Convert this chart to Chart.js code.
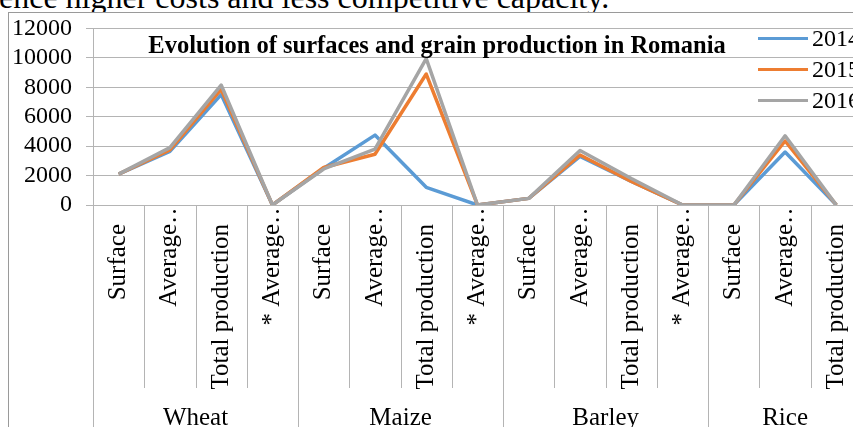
<!DOCTYPE html>
<html lang="en">
<head>
    <meta charset="UTF-8">
    <title>Evolution of surfaces and grain production in Romania</title>
    <script src="https://cdn.jsdelivr.net/npm/chart.js@4.4.1/dist/chart.umd.min.js"></script>
    <style>
        html, body {
            margin: 0;
            padding: 0;
            width: 853px;
            height: 427px;
            overflow: hidden;
            background: #fff;
        }
        #doc {
            position: absolute;
            left: -1px;
            top: -21px;
            font-family: 'Liberation Serif', 'Times New Roman', serif;
            font-size: 32px;
            white-space: nowrap;
            color: #000;
        }
        #frame {
            position: absolute;
            left: 8px;
            top: 12px;
            width: 1200px;
            height: 1200px;
            border: 1px solid #9a9a9a;
            background: #fff;
        }
        #chart {
            position: absolute;
            left: 0;
            top: 0;
        }
    </style>
</head>
<body>
    <div id="doc">ence higher costs and less competitive capacity.</div>
    <div id="frame"></div>
    <canvas id="chart" width="900" height="440"></canvas>

    <script>
        const categories = [
            'Surface', 'Average…', 'Total production', '* Average…',
            'Surface', 'Average…', 'Total production', '* Average…',
            'Surface', 'Average…', 'Total production', '* Average…',
            'Surface', 'Average…', 'Total production'
        ];
        const groupNames = ['Wheat', 'Maize', 'Barley', 'Rice'];
        const groupSizes = [4, 4, 4, 3];

        const seriesNames = ['2014', '2015', '2016'];
        const values2014 = [2100, 3650, 7500, 0, 2500, 4750, 1200, 0, 450, 3300, 1600, 0, 0, 3600, 0];
        const values2015 = [2100, 3750, 7850, 0, 2550, 3450, 8900, 0, 450, 3400, 1600, 0, 0, 4350, 0];
        const values2016 = [2100, 3900, 8150, 0, 2450, 3800, 9950, 0, 450, 3700, 1800, 0, 0, 4700, 0];
        const yTicks = [0, 2000, 4000, 6000, 8000, 10000, 12000];

        const chartTitle = 'Evolution of surfaces and grain production in Romania';
        const colors = ['#5B9BD5', '#ED7D31', '#A5A5A5'];
        const gridColor = '#b4b4b4';
        const serif = "'Liberation Serif', 'Times New Roman', serif";

        Chart.defaults.font.family = serif;
        Chart.defaults.color = '#000';

        // title, legend, category separators and group labels
        const decor = {
            id: 'decor',
            afterDraw(chart) {
                const { ctx, chartArea } = chart;
                const x = chart.scales.x;
                const step = x.getPixelForValue(1) - x.getPixelForValue(0);
                ctx.save();

                // separators below the axis
                const groupEdges = [0];
                groupSizes.forEach(n => groupEdges.push(groupEdges[groupEdges.length - 1] + n));
                ctx.strokeStyle = gridColor;
                ctx.lineWidth = 1;
                for (let i = 0; i <= categories.length; i++) {
                    const px = Math.round(x.getPixelForValue(i) - step / 2) + 0.5;
                    const bottom = groupEdges.includes(i) ? chart.height : chartArea.bottom + 183;
                    ctx.beginPath();
                    ctx.moveTo(px, chartArea.bottom);
                    ctx.lineTo(px, bottom);
                    ctx.stroke();
                }

                // group labels
                ctx.fillStyle = '#000';
                ctx.font = '25px ' + serif;
                ctx.textAlign = 'center';
                ctx.textBaseline = 'middle';
                groupNames.forEach((name, g) => {
                    const a = groupEdges[g], b = groupEdges[g + 1] - 1;
                    const cx = (x.getPixelForValue(a) + x.getPixelForValue(b)) / 2;
                    ctx.fillText(name, cx, chartArea.bottom + 213);
                });

                // title
                ctx.font = 'bold 24.5px ' + serif;
                ctx.textBaseline = 'alphabetic';
                ctx.fillText(chartTitle, chartArea.left + 344, chartArea.top + 25);

                // legend
                ctx.font = '24px ' + serif;
                ctx.textAlign = 'left';
                ctx.textBaseline = 'middle';
                ctx.lineWidth = 3;
                seriesNames.forEach((name, i) => {
                    const ly = chartArea.top + 10 + i * 31;
                    ctx.strokeStyle = colors[i];
                    ctx.beginPath();
                    ctx.moveTo(chartArea.right - 104, ly);
                    ctx.lineTo(chartArea.right - 54, ly);
                    ctx.stroke();
                    ctx.fillText(name, chartArea.right - 50, ly + 1);
                });

                ctx.restore();
            }
        };

        const seriesValues = [values2014, values2015, values2016];

        new Chart(document.getElementById('chart'), {
            type: 'line',
            data: {
                labels: categories,
                datasets: seriesNames.map((name, i) => ({
                    label: name,
                    data: seriesValues[i],
                    borderColor: colors[i],
                    backgroundColor: colors[i],
                    borderWidth: 3.5,
                    pointRadius: 0,
                    tension: 0,
                    borderJoinStyle: 'round',
                    order: seriesNames.length - i
                }))
            },
            options: {
                responsive: false,
                animation: false,
                layout: { padding: { top: 25, right: 38, left: 0, bottom: 0 } },
                plugins: {
                    legend: { display: false },
                    title: { display: false },
                    tooltip: { enabled: false }
                },
                scales: {
                    x: {
                        offset: true,
                        grid: { display: false },
                        border: { display: false },
                        ticks: {
                            autoSkip: false,
                            minRotation: 90,
                            maxRotation: 90,
                            padding: -14,
                            font: { size: 25 },
                            callback: (value, index) => {
                                const label = categories[index];
                                return label.endsWith('…') ? label : label + '    ';
                            }
                        },
                        afterFit: scale => { scale.height = 235; }
                    },
                    y: {
                        min: yTicks[0],
                        max: yTicks[yTicks.length - 1],
                        afterBuildTicks: scale => {
                            scale.ticks = yTicks.map(v => ({ value: v }));
                        },
                        grid: { color: gridColor, tickLength: 7 },
                        border: { color: gridColor },
                        ticks: {
                            autoSkip: false,
                            padding: 14,
                            font: { size: 24 },
                            callback: value => String(value)
                        },
                        afterFit: scale => { scale.width = 93; }
                    }
                }
            },
            plugins: [decor]
        });
    </script>
</body>
</html>
